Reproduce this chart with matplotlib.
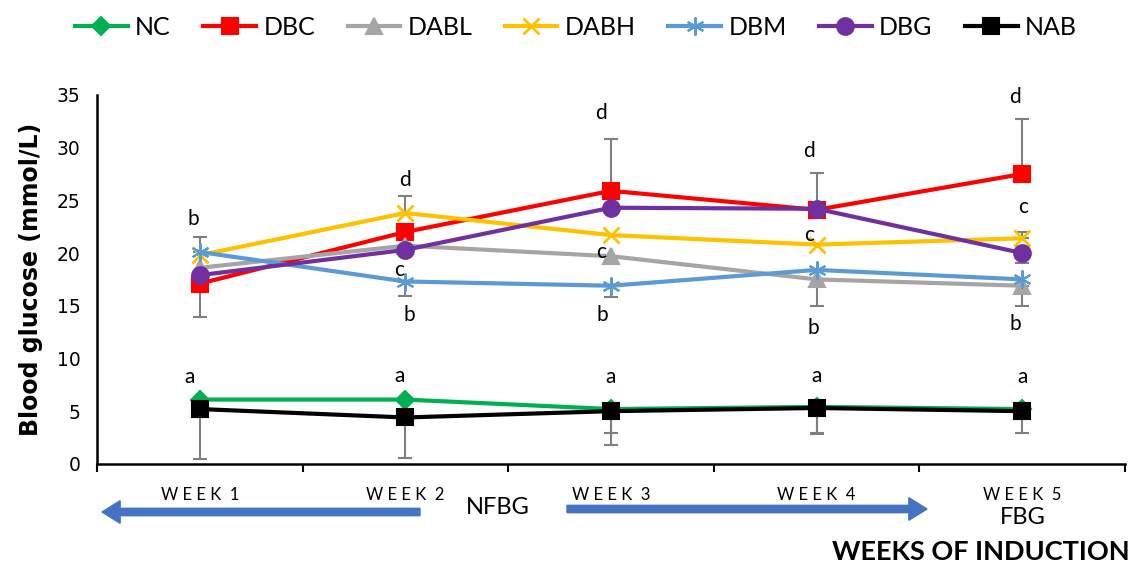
import numpy as np
import matplotlib.pyplot as plt
from matplotlib.patches import FancyArrow

weeks = ['W E E K  1', 'W E E K  2', 'W E E K  3', 'W E E K  4', 'W E E K  5']
groups = ['NC', 'DBC', 'DABL', 'DABH', 'DBM', 'DBG', 'NAB']

# mean blood glucose (mmol/L) per week
nc   = [6.1, 6.1, 5.2, 5.4, 5.2]
dbc  = [17.1, 22.0, 25.9, 24.1, 27.5]
dabl = [18.6, 20.7, 19.7, 17.5, 16.9]
dabh = [19.8, 23.8, 21.7, 20.8, 21.4]
dbm  = [20.1, 17.3, 16.9, 18.4, 17.5]
dbg  = [17.9, 20.3, 24.3, 24.2, 20.0]
nab  = [5.2, 4.4, 5.0, 5.3, 5.0]

# visible error bar halves (lower, upper); 0 = not shown
err_lo = {'NC': [0, 0, 2.3, 2.6, 0], 'DBC': [3.2, 0, 0, 0, 0],
          'DABL': [0, 0, 0, 2.5, 1.9], 'DABH': [0, 0, 0, 0, 0],
          'DBM': [0, 1.4, 1.1, 0, 0], 'DBG': [0, 0, 0, 0, 0.9],
          'NAB': [4.7, 3.8, 3.2, 2.4, 2.1]}
err_hi = {'NC': [0, 0, 0, 0, 0], 'DBC': [0, 0, 4.9, 3.5, 5.2],
          'DABL': [0, 0, 0, 0, 0], 'DABH': [0, 1.6, 0, 0, 0.6],
          'DBM': [1.4, 0, 0, 0, 0], 'DBG': [0, 0, 0, 0, 0],
          'NAB': [0, 0, 0, 0, 0]}

# significance letters: (week index, x shift, y, letter)
letters = [(0, -0.03, 23.2, 'b'), (0, -0.05, 8.2, 'a'),
           (1, 0.0, 26.9, 'd'), (1, -0.03, 18.4, 'c'), (1, 0.02, 14.1, 'b'), (1, -0.03, 8.3, 'a'),
           (2, -0.05, 33.3, 'd'), (2, -0.05, 20.1, 'c'), (2, -0.04, 14.1, 'b'), (2, 0.0, 8.2, 'a'),
           (3, -0.035, 29.7, 'd'), (3, -0.035, 21.7, 'c'), (3, -0.015, 12.9, 'b'), (3, 0.0, 8.3, 'a'),
           (4, -0.035, 34.8, 'd'), (4, 0.005, 24.4, 'c'), (4, -0.035, 13.3, 'b'), (4, 0.0, 8.2, 'a')]

values = [nc, dbc, dabl, dabh, dbm, dbg, nab]
colors = ['#00B050', '#FF0000', '#A5A5A5', '#FFC000', '#5B9BD5', '#7030A0', '#000000']
markers = ['D', 's', '^', 'x', (6, 2, 0), 'o', 's']
msizes = [9, 12, 12, 12, 13, 12, 12]

plt.rcParams['font.family'] = ['DejaVu Sans']

fig = plt.figure(figsize=(11.34, 5.65), dpi=100)
ax = fig.add_axes([0.0855, 0.179, 0.9065, 0.653])

x = np.arange(1, 6)
for i, (g, v) in enumerate(zip(groups, values)):
    lo = np.array(err_lo[g])
    hi = np.array(err_hi[g])
    m = (lo > 0) | (hi > 0)
    if m.any():
        ax.errorbar(x[m], np.array(v)[m], yerr=[lo[m], hi[m]], fmt='none',
                    ecolor='#7F7F7F', elinewidth=1.5, capsize=5, capthick=1.5, zorder=1)
    ax.plot(x, v, color=colors[i], lw=3, marker=markers[i], ms=msizes[i],
            mew=2 if markers[i] == 'x' else 1.5, label=g, zorder=2 + i)

for wi, dx, y, t in letters:
    ax.text(x[wi] + dx, y, t, ha='center', va='center', fontsize=15, family='Lato', zorder=20)

ax.set_xlim(0.5, 5.5)
ax.set_ylim(0, 35)
ax.set_yticks(np.arange(0, 36, 5))
ax.tick_params(axis='y', length=0, labelsize=13.5, pad=12)
ax.set_xticks(np.arange(0.5, 6, 1))
ax.set_xticklabels([])
ax.tick_params(axis='x', which='major', length=6, width=1.5, direction='out')
ax.set_xticks(x, minor=True)
ax.set_xticklabels(weeks, minor=True, fontsize=12, family='Lato')
ax.tick_params(axis='x', which='minor', length=0, pad=17)
for s in ['top', 'right']:
    ax.spines[s].set_visible(False)
for s in ['left', 'bottom']:
    ax.spines[s].set_linewidth(1.8)
ax.set_ylabel('Blood glucose (mmol/L)', fontsize=17, fontweight='bold', labelpad=10)

fig.legend(loc='upper center', bbox_to_anchor=(0.508, 1.012), ncol=7, frameon=False,
           handlelength=2.1, columnspacing=1.3, handletextpad=0.3,
           prop={'family': 'Lato', 'size': 18})

# arrows and group notes below the axis
fig.add_artist(FancyArrow(420 / 1134, 1 - 512 / 565, -318 / 1134, 0,
               width=0.013, head_width=0.04, head_length=0.016, color='#4472C4',
               transform=fig.transFigure, length_includes_head=True))
fig.add_artist(FancyArrow(567 / 1134, 1 - 509 / 565, 360 / 1134, 0,
               width=0.013, head_width=0.04, head_length=0.016, color='#4472C4',
               transform=fig.transFigure, length_includes_head=True))
fig.text(498 / 1134, 1 - 508 / 565, 'NFBG', ha='center', va='center', fontsize=17, family='Lato')
fig.text(1023 / 1134, 1 - 518 / 565, 'FBG', ha='center', va='center', fontsize=17, family='Lato')
fig.text(1130 / 1134, 1 - 552 / 565, 'WEEKS OF INDUCTION', ha='right', va='center',
         fontsize=19.5, fontweight='bold', family='Lato')

fig.savefig('out.png', dpi=100)
